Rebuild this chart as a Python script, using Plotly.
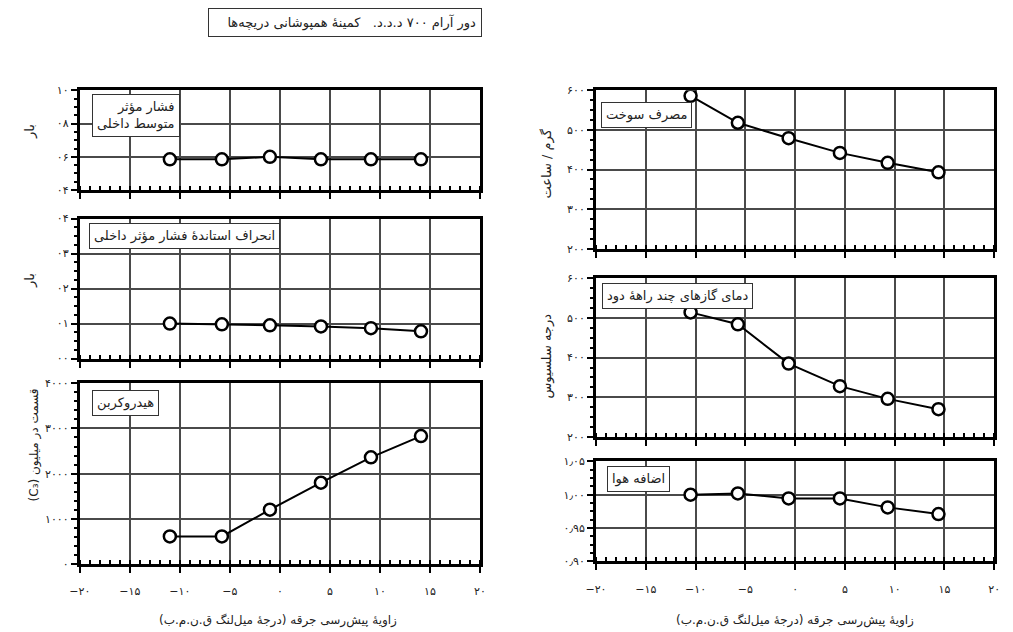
import plotly.graph_objects as go

W, H = 1013, 632
FONT = "DejaVu Sans"

def rtl(s):
    # right-to-left embedding so that Latin parts and brackets sit correctly
    return "\u202b" + s + "\u202c"

# ---------------- data ----------------
advance_left = [-11, -5.8, -1, 4.1, 9.1, 14.1]
advance_right = [-10.5, -5.75, -0.65, 4.5, 9.3, 14.4]

imep = [0.585, 0.585, 0.60, 0.585, 0.585, 0.585]
imep_sd = [0.10, 0.098, 0.095, 0.092, 0.087, 0.078]
hydrocarbon = [615, 615, 1205, 1800, 2360, 2830]
fuel = [586, 518, 479, 442, 417, 393]
exhaust_temp = [514, 484, 385, 328, 296, 270]
excess_air = [1.000, 1.002, 0.9945, 0.9945, 0.981, 0.971]

x_tickvals = [-20, -15, -10, -5, 0, 5, 10, 15, 20]
x_ticktext = ["−۲۰", "−۱۵", "−۱۰", "−۵", "۰", "۵", "۱۰", "۱۵", "۲۰"]

imep_ticks = [0.4, 0.6, 0.8, 1.0]
imep_text = ["۰۴", "۰۶", "۰۸", "۱۰"]
sd_ticks = [0, 0.1, 0.2, 0.3, 0.4]
sd_text = ["۰۰", "۰۱", "۰۲", "۰۳", "۰۴"]
hc_ticks = [0, 1000, 2000, 3000, 4000]
hc_text = ["۰", "۱۰۰۰", "۲۰۰۰", "۳۰۰۰", "۴۰۰۰"]
fuel_ticks = [200, 300, 400, 500, 600]
fuel_text = ["۲۰۰", "۳۰۰", "۴۰۰", "۵۰۰", "۶۰۰"]
temp_ticks = [200, 300, 400, 500, 600]
temp_text = ["۲۰۰", "۳۰۰", "۴۰۰", "۵۰۰", "۶۰۰"]
air_ticks = [0.90, 0.95, 1.00, 1.05]
air_text = ["۰٫۹۰", "۰٫۹۵", "۱٫۰۰", "۱٫۰۵"]

title_text = "دور آرام ۷۰۰ د.د.د.   کمینهٔ همپوشانی دریچه‌ها"
x_title = "زاویهٔ پیش‌رسی جرقه (درجهٔ میل‌لنگ ق.ن.م.ب)"

# ---------------- layout geometry (pixels) ----------------
def px_x(a, b):
    return [a / W, b / W]

def px_y(top, bottom):
    return [1 - bottom / H, 1 - top / H]

panels = [
    (advance_left, imep, px_x(70, 477), px_y(86, 188), [0.4, 1.0], imep_ticks, imep_text, 0.05,
     "فشار مؤثر<br>متوسط داخلی", (82, 90), False),
    (advance_left, imep_sd, px_x(70, 477), px_y(217, 360), [0, 0.4], sd_ticks, sd_text, 0.025,
     "انحراف استاندهٔ فشار مؤثر داخلی", (79, 222), False),
    (advance_left, hydrocarbon, px_x(70, 477), px_y(385, 570), [0, 4000], hc_ticks, hc_text, 200,
     "هیدروکربن", (82, 392), True),
    (advance_right, fuel, px_x(595, 1000), px_y(86, 248), [200, 600], fuel_ticks, fuel_text, 25,
     "مصرف سوخت", (600, 98), False),
    (advance_right, exhaust_temp, px_x(595, 1000), px_y(278, 440), [200, 600], temp_ticks, temp_text, 25,
     "دمای گازهای چند راههٔ دود", (601, 283), False),
    (advance_right, excess_air, px_x(595, 1000), px_y(465, 567), [0.9, 1.05], air_ticks, air_text, 0.0125,
     "اضافه هوا", (606, 470), True),
]

fig = go.Figure()
annotations = []
layout = {}

for i, (xs, ys, xdom, ydom, yr, tv, tt, mdt, label, lpos, showx) in enumerate(panels, start=1):
    xa = "x" if i == 1 else f"x{i}"
    ya = "y" if i == 1 else f"y{i}"
    fig.add_trace(go.Scatter(
        x=xs, y=ys, xaxis=xa, yaxis=ya, mode="lines+markers",
        line=dict(color="black", width=2),
        marker=dict(symbol="circle", size=12, color="white",
                    line=dict(color="black", width=2.5)),
        showlegend=False, hoverinfo="skip",
    ))
    xkey = "xaxis" if i == 1 else f"xaxis{i}"
    ykey = "yaxis" if i == 1 else f"yaxis{i}"
    layout[xkey] = dict(
        domain=xdom, anchor=ya, range=[-20, 20],
        tickvals=x_tickvals, ticktext=x_ticktext, showticklabels=showx,
        ticks="outside", ticklen=6, tickwidth=2, tickcolor="black",
        ticklabelstandoff=9,
        showgrid=True, gridcolor="#4a4a4a", gridwidth=1.6,
        showline=True, linecolor="black", linewidth=3, mirror=True,
        zeroline=False, fixedrange=True,
        tickfont=dict(family=FONT, size=11, color="#222"),
        minor=dict(dtick=1, ticks="inside", ticklen=4, tickwidth=1.5,
                   tickcolor="black", showgrid=False),
    )
    layout[ykey] = dict(
        domain=ydom, anchor=xa, range=yr,
        tickvals=tv, ticktext=tt,
        ticks="outside", ticklen=6, tickwidth=2, tickcolor="black",
        showgrid=True, gridcolor="#4a4a4a", gridwidth=1.6,
        showline=True, linecolor="black", linewidth=3, mirror=True,
        zeroline=False, fixedrange=True,
        tickfont=dict(family=FONT, size=11, color="#222"),
        minor=dict(dtick=mdt, tick0=yr[0], ticks="outside", ticklen=3, tickwidth=1.5,
                   tickcolor="black", showgrid=False),
    )
    lines = label.split("<br>")
    annotations.append(dict(
        xref="paper", yref="paper", x=lpos[0] / W, y=1 - lpos[1] / H,
        xanchor="left", yanchor="top", align="right",
        text="<br>".join(rtl(s) for s in lines),
        showarrow=False, bgcolor="white", bordercolor="#333", borderwidth=1,
        borderpad=4, font=dict(family=FONT, size=13, color="#222"),
    ))

# y-axis titles
for txt, xp, yp, fs in [
    ("بار", 20, 128, 13), ("بار", 20, 280, 13), ("قسمت در میلیون (C₃)", 24, 448, 12),
    ("گرم / ساعت", 545, 161, 13), ("درجه سلسیوس", 545, 357, 13),
]:
    annotations.append(dict(
        xref="paper", yref="paper", x=xp / W, y=1 - yp / H, xanchor="center", yanchor="middle",
        text=rtl(txt), textangle=-90, showarrow=False,
        font=dict(family=FONT, size=fs, color="#222"),
    ))

# x-axis titles
for xc in (272, 797):
    annotations.append(dict(
        xref="paper", yref="paper", x=xc / W, y=1 - 627 / H, xanchor="center", yanchor="middle",
        text=rtl(x_title), showarrow=False,
        font=dict(family=FONT, size=12, color="#222"),
    ))

# top title box
annotations.append(dict(
    xref="paper", yref="paper", x=200 / W, y=1 - 2 / H, xanchor="left", yanchor="top",
    text=rtl(title_text), showarrow=False, align="right", width=262,
    bgcolor="white", bordercolor="#333", borderwidth=1, borderpad=5,
    font=dict(family=FONT, size=13, color="#222"),
))

fig.update_layout(
    width=W, height=H, margin=dict(l=0, r=0, t=0, b=0),
    paper_bgcolor="white", plot_bgcolor="white",
    annotations=annotations, **layout,
)

fig.write_html("out.html")
